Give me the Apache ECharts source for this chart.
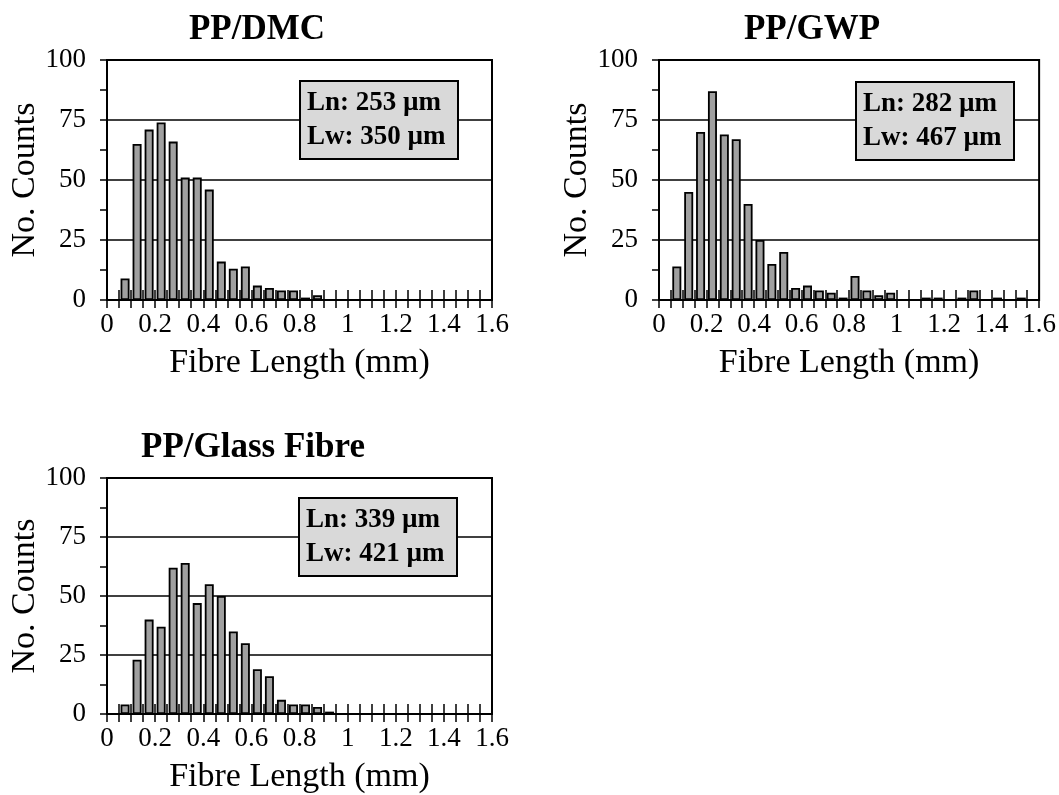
<!DOCTYPE html>
<html>
<head>
<meta charset="utf-8">
<script src="https://cdn.jsdelivr.net/npm/echarts@6/dist/echarts.min.js"></script>
<style>
html,body{margin:0;padding:0;background:#fff;}
#chart{width:1059px;height:795px;}
</style>
</head>
<body>
<div id="chart"></div>
<script>
// Bin centres of the 0.05 mm fibre-length classes (mm)
const binCenters = [0.025,0.075,0.125,0.175,0.225,0.275,0.325,0.375,0.425,0.475,
  0.525,0.575,0.625,0.675,0.725,0.775,0.825,0.875,0.925,0.975,
  1.025,1.075,1.125,1.175,1.225,1.275,1.325,1.375,1.425,1.475,1.525,1.575];

// Counts per class
const dmcCounts   = [0,9,65,71,74,66,51,51,46,16,13,14,6,5,4,4,1,2,0,0,0,0,0,0,0,0,0,0,0,0,0,0];
const gwpCounts   = [0,14,45,70,87,69,67,40,25,15,20,5,6,4,3,1,10,4,2,3,0,0,1,1,0,1,4,0,1,0,1,0];
const glassCounts = [0,4,23,40,37,62,64,47,55,50,35,30,19,16,6,4,4,3,1,0,0,0,0,0,0,0,0,0,0,0,0,0];

const panelTitles = ['PP/DMC','PP/GWP','PP/Glass Fibre'];
const panelStats  = ['Ln: 253 µm\nLw: 350 µm','Ln: 282 µm\nLw: 467 µm','Ln: 339 µm\nLw: 421 µm'];

const xTicks = {min:0, max:1.6, interval:0.2};
const yTicks = {min:0, max:100, interval:25};

const FONT = "'Liberation Serif','Times New Roman',serif";

const grids = [
  {left:107, top:60,  width:385, height:240},
  {left:659, top:60,  width:383, height:240},
  {left:107, top:478, width:385, height:240}
];
const titlePos = [{x:252, y:7},{x:807, y:7},{x:248, y:425}];
const boxPos = [{x:300, y:81},{x:856, y:82},{x:299, y:498}];
const allCounts = [dmcCounts, gwpCounts, glassCounts];

const chart = echarts.init(document.getElementById('chart'), null, {renderer:'canvas'});

const option = {
  backgroundColor:'#fff',
  animation:false,
  title:[],
  grid:[],
  xAxis:[],
  yAxis:[],
  series:[]
};

grids.forEach((g, i) => {
  option.grid.push(Object.assign({show:true, borderColor:'#000', borderWidth:2, backgroundColor:'transparent', containLabel:false}, g));
  option.title.push({
    text:panelTitles[i], left:titlePos[i].x, top:titlePos[i].y, textAlign:'center',
    textStyle:{fontFamily:FONT, fontWeight:'bold', fontSize:35, color:'#000'}
  });
  option.title.push({
    text:panelStats[i], left:boxPos[i].x, top:boxPos[i].y, textAlign:'left',
    backgroundColor:'#d9d9d9', borderColor:'#000', borderWidth:2, padding:[5,13,5,7],
    z:10,
    textStyle:{fontFamily:FONT, fontWeight:'bold', fontSize:27, lineHeight:34, color:'#000'}
  });
  // main x axis (labels + outside ticks)
  option.xAxis.push({
    type:'value', gridIndex:i, position:'bottom', min:xTicks.min, max:xTicks.max, interval:xTicks.interval,
    name:'Fibre Length (mm)', nameLocation:'middle', nameGap:46,
    nameTextStyle:{fontFamily:FONT, fontSize:34, color:'#000'},
    axisLine:{show:true, onZero:false, lineStyle:{color:'#000', width:2}},
    axisTick:{show:true, inside:false, length:8, lineStyle:{color:'#000', width:1.5}},
    minorTick:{show:true, splitNumber:4, length:8, lineStyle:{color:'#000', width:1.5}},
    axisLabel:{show:true, margin:11, fontFamily:FONT, fontSize:27, color:'#000',
      formatter:v => String(Math.round(v*10)/10)},
    splitLine:{show:false}, minorSplitLine:{show:false}
  });
  // companion x axis (inside ticks so ticks cross the axis)
  option.xAxis.push({
    type:'value', gridIndex:i, position:'bottom', offset:0, min:xTicks.min, max:xTicks.max, interval:xTicks.interval,
    axisLine:{show:false},
    axisTick:{show:true, inside:true, length:10, lineStyle:{color:'#000', width:1.5}},
    minorTick:{show:true, splitNumber:4, length:10, lineStyle:{color:'#000', width:1.5}},
    axisLabel:{show:false}, splitLine:{show:false}
  });
  option.yAxis.push({
    type:'value', gridIndex:i, min:yTicks.min, max:yTicks.max, interval:yTicks.interval,
    name:'No. Counts', nameLocation:'middle', nameGap:64, nameRotate:90,
    nameTextStyle:{fontFamily:FONT, fontSize:34, color:'#000'},
    axisLine:{show:true, onZero:false, lineStyle:{color:'#000', width:2}},
    axisTick:{show:true, inside:false, length:7, lineStyle:{color:'#000', width:1.5}},
    minorTick:{show:true, splitNumber:2, length:7, lineStyle:{color:'#000', width:1.5}},
    axisLabel:{show:true, margin:21, fontFamily:FONT, fontSize:27, color:'#000'},
    splitLine:{show:true, lineStyle:{color:'#000', width:1.5}}
  });
  const data = allCounts[i].map((v, k) => [binCenters[k], v]).filter(d => d[1] > 0);
  option.series.push({
    type:'bar', xAxisIndex:i*2, yAxisIndex:i, data:data, barWidth:9,
    itemStyle:{color:'#a0a0a0', borderColor:'#000', borderWidth:1.8},
    z:3
  });
});

chart.setOption(option);
</script>
</body>
</html>
